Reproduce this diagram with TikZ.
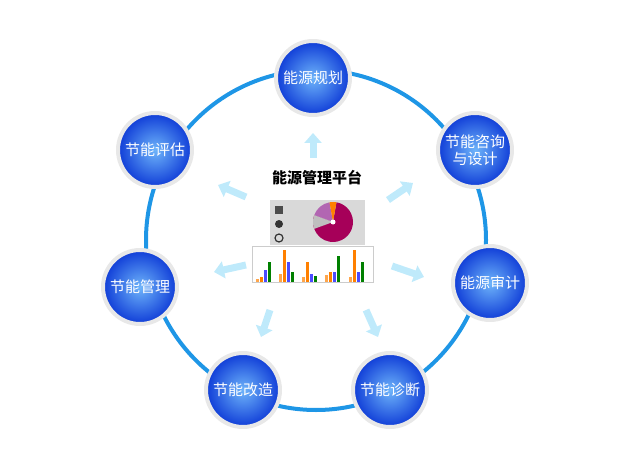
\documentclass[tikz,border=0pt]{standalone}
\usepackage{fontspec}
\setmainfont{Noto Sans CJK SC}
\usetikzlibrary{positioning,arrows.meta}
\definecolor{ringblue}{RGB}{30,150,230}
\definecolor{balllight}{RGB}{110,180,250}
\definecolor{balldark}{RGB}{15,60,215}
\tikzset{ball node/.style={circle,minimum size=74pt,inner sep=0pt,draw=gray!18,line width=4pt,
  inner color=balllight,outer color=balldark,text=white,font=\fontsize{15}{17}\selectfont,align=center},
  glow arrow/.style={line width=7pt,cyan!25,-{Triangle[length=10pt,width=17pt]}},
}
\begin{document}
\begin{tikzpicture}[x=1pt,y=-1pt]
				\useasboundingbox (0,0) rectangle (634,473);
				\draw[line width=4pt,ringblue] (316,240) circle (170);
				
				\node[ball node] (plan) at (313,78) {能源规划};
				\node[ball node] (consult) at (475,150) {节能咨询\\与设计};
				\node[ball node] (audit) at (490,283) {能源审计};
				\node[ball node] (diag) at (390,390) {节能诊断};
				\node[ball node] (reform) at (243,390) {节能改造};
				\node[ball node] (manage) at (140,287) {节能管理};
				\node[ball node] (assess) at (155,150) {节能评估};
				
				\node[font=\fontsize{15}{17}\selectfont\bfseries] (hub) at (317,178) {能源管理平台};
				
				% dashboard picture
				\fill[gray!30] (270,200) rectangle (365,245);
				\fill[black!70] (275,206) rectangle (283,214);
				\fill[black!80] (279,224) circle (4);
				\draw[black!80,line width=1.2pt] (279,238) circle (4);
				\fill[violet!70!red] (333,222) -- ++(-80:20) arc (-80:200:20) -- cycle;
				\fill[violet!60] (333,222) -- ++(-160:20) arc (-160:-100:20) -- cycle;
				\fill[gray!50] (333,222) -- ++(-200:20) arc (-200:-160:20) -- cycle;
				\fill[orange] (333,222) -- ++(-100:20) arc (-100:-80:20) -- cycle;
				\fill[white] (333,222) circle (2.5);
				\draw[gray!40] (252,246) rectangle (373,282);
				\foreach \x/\a/\b/\c/\d in {262/5/12/20/3,285/32/20/10/8,308/20/8/6/5,331/10/10/26/7,355/32/10/20/5}{
				  \fill[orange!70] (\x-6,282) rectangle ++(3,-\d);
				  \fill[orange] (\x-2,282) rectangle ++(3,-\a);
				  \fill[blue!70] (\x+2,282) rectangle ++(3,-\b);
				  \fill[green!50!black] (\x+6,282) rectangle ++(3,-\c);
				}
				
				\coordinate (a1s) at (313,158); \coordinate (a1e) at (313,133);
				\coordinate (a2s) at (246,197); \coordinate (a2e) at (218,185);
				\coordinate (a3s) at (388,200); \coordinate (a3e) at (413,183);
				\coordinate (a4s) at (246,265); \coordinate (a4e) at (214,272);
				\coordinate (a5s) at (392,266); \coordinate (a5e) at (424,277);
				\coordinate (a6s) at (270,310); \coordinate (a6e) at (261,337);
				\coordinate (a7s) at (366,310); \coordinate (a7e) at (378,337);
				\foreach \i in {1,...,7}
				  \draw[glow arrow] (a\i s) -- (a\i e);
			\end{tikzpicture}
\end{document}
